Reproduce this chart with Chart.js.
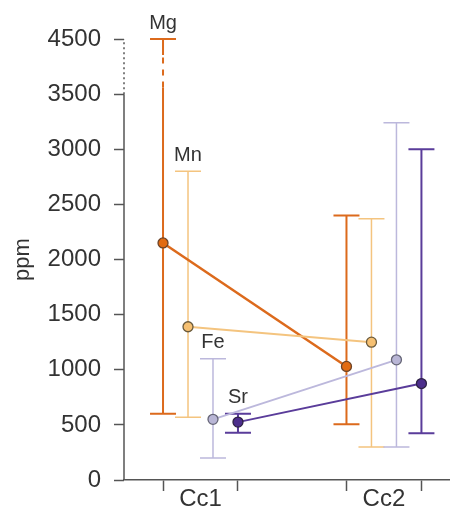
<!DOCTYPE html>
<html>
<head>
<meta charset="utf-8">
<script src="https://cdn.jsdelivr.net/npm/chart.js@4/dist/chart.umd.min.js"></script>
<style>
  html, body { margin: 0; padding: 0; background: #fff; }
  #wrap { width: 450px; height: 510px; }
</style>
</head>
<body>
<div id="wrap"><canvas id="chart" width="450" height="510"></canvas></div>
<script>
// categories and series (ppm)
const categories = ['Cc1', 'Cc2'];
const elements = ['Mg', 'Mn', 'Fe', 'Sr'];
const mgMean = [2150, 1030];
const mgMin = [600, 505];
const mgMax = [4500, 2400];
const mnMean = [1390, 1250];
const mnMin = [570, 300];
const mnMax = [2800, 2370];
const feMean = [550, 1090];
const feMin = [200, 300];
const feMax = [1100, 3240];
const srMean = [525, 875];
const srMin = [428, 425];
const srMax = [600, 3000];
const yTicks = [0, 500, 1000, 1500, 2000, 2500, 3000, 3500, 4500];

// axis break: everything above 3500 is squeezed to half
const BREAK = 3500;
function disp(v) {
    return v <= BREAK ? v : BREAK + (v - BREAK) / 2;
}

const colors = ['#dc6a1c', '#f4c47f', '#bcb8dc', '#5a3c9a'];
const pointFill = ['#e26b12', '#f6c072', '#b9b6d6', '#4c2e8c'];
const pointEdge = ['#6e4428', '#6a5a3c', '#666677', '#2e2244'];
const barWidth = [2, 1.5, 1.5, 2];
const lineWidth = [2.5, 2, 2, 2];

const means = [mgMean, mnMean, feMean, srMean];
const mins = [mgMin, mnMin, feMin, srMin];
const maxs = [mgMax, mnMax, feMax, srMax];

// horizontal spread of the 4 elements inside a group (x units)
const STEP = 0.1362;
const offsets = [-1.5 * STEP, -0.5 * STEP, 0.5 * STEP, 1.5 * STEP];

const datasets = elements.map((el, i) => ({
    label: el,
    data: categories.map((c, k) => ({ x: k + 1 + offsets[i], y: disp(means[i][k]) })),
    showLine: true,
    borderColor: colors[i],
    borderWidth: lineWidth[i],
    pointRadius: 5,
    pointBorderWidth: 1.3,
    pointBackgroundColor: pointFill[i],
    pointBorderColor: pointEdge[i],
    order: 4 - i
}));

const textFont = '"Liberation Sans", Arial, sans-serif';

// error bars, element labels and the broken y axis line
const extras = {
    id: 'extras',
    beforeDatasetsDraw(chart) {
        const ctx = chart.ctx;
        const xs = chart.scales.x, ys = chart.scales.y;
        ctx.save();
        for (let i = 0; i < elements.length; i++) {
            for (let k = 0; k < categories.length; k++) {
                const px = xs.getPixelForValue(k + 1 + offsets[i]);
                const lo = ys.getPixelForValue(disp(mins[i][k]));
                const hi = ys.getPixelForValue(disp(maxs[i][k]));
                ctx.strokeStyle = colors[i];
                ctx.lineWidth = barWidth[i];
                ctx.beginPath();
                if (maxs[i][k] > BREAK) {
                    const br = ys.getPixelForValue(BREAK + 60);
                    ctx.moveTo(px, lo); ctx.lineTo(px, br);
                    ctx.stroke();
                    ctx.setLineDash([6, 6]);
                    ctx.beginPath();
                    ctx.moveTo(px, br); ctx.lineTo(px, hi + 16);
                    ctx.stroke();
                    ctx.setLineDash([]);
                    ctx.beginPath();
                    ctx.moveTo(px, hi + 16); ctx.lineTo(px, hi);
                } else {
                    ctx.moveTo(px, lo); ctx.lineTo(px, hi);
                }
                ctx.moveTo(px - 13, lo); ctx.lineTo(px + 13, lo);
                ctx.moveTo(px - 13, hi); ctx.lineTo(px + 13, hi);
                ctx.stroke();
            }
        }
        // element names above the Cc1 bars
        ctx.fillStyle = '#333';
        ctx.font = '20px ' + textFont;
        ctx.textAlign = 'center';
        ctx.textBaseline = 'middle';
        for (let i = 0; i < elements.length; i++) {
            const px = xs.getPixelForValue(1 + offsets[i]);
            const hi = ys.getPixelForValue(disp(maxs[i][0]));
            ctx.fillText(elements[i], px, hi - 16);
        }
        // y axis line, dotted through the break
        const ax = chart.chartArea.left;
        ctx.strokeStyle = '#555';
        ctx.lineWidth = 1.5;
        ctx.beginPath();
        ctx.moveTo(ax, ys.getPixelForValue(0));
        ctx.lineTo(ax, ys.getPixelForValue(BREAK));
        ctx.stroke();
        ctx.setLineDash([2, 3]);
        ctx.beginPath();
        ctx.moveTo(ax, ys.getPixelForValue(BREAK));
        ctx.lineTo(ax, ys.getPixelForValue(disp(4500)));
        ctx.stroke();
        ctx.restore();
    }
};

new Chart(document.getElementById('chart'), {
    type: 'scatter',
    data: { datasets: datasets },
    options: {
        responsive: false,
        animation: false,
        layout: { autoPadding: false, padding: { top: 39, right: 0, left: 0, bottom: 0 } },
        plugins: { legend: { display: false }, tooltip: { enabled: false } },
        scales: {
            x: {
                type: 'linear',
                min: 0.583,
                max: 2.36,
                afterBuildTicks(scale) {
                    scale.ticks = [];
                    categories.forEach((c, k) => {
                        scale.ticks.push({ value: k + 1 + offsets[0] });
                        scale.ticks.push({ value: k + 1 });
                        scale.ticks.push({ value: k + 1 + offsets[3] });
                    });
                },
                afterFit(scale) {
                    scale.height = 30;
                    scale.paddingLeft = 0;
                    scale.paddingRight = 0;
                },
                grid: {
                    drawOnChartArea: false,
                    tickLength: 11,
                    tickWidth: 1.5,
                    tickColor: (c) => (c.index % 3 === 1 ? 'rgba(0,0,0,0)' : '#555')
                },
                border: { display: true, color: '#555', width: 1.5 },
                ticks: {
                    autoSkip: false,
                    maxRotation: 0,
                    padding: -6,
                    color: '#333',
                    font: { size: 24, family: textFont },
                    callback: (v, i) => (i % 3 === 1 ? categories[Math.floor(i / 3)] : '')
                }
            },
            y: {
                min: 0,
                max: disp(4500),
                afterBuildTicks(scale) {
                    scale.ticks = yTicks.map(v => ({ value: disp(v) }));
                },
                afterFit(scale) { scale.width = 124; },
                grid: {
                    drawOnChartArea: false,
                    tickLength: 10,
                    tickWidth: 1.5,
                    tickColor: '#555'
                },
                border: { display: false },
                title: {
                    display: true,
                    text: 'ppm',
                    color: '#333',
                    padding: { top: 10, bottom: 0 },
                    font: { size: 22, family: textFont }
                },
                ticks: {
                    padding: 13,
                    color: '#333',
                    font: { size: 24, family: textFont },
                    callback: (v, i) => yTicks[i]
                }
            }
        }
    },
    plugins: [extras]
});
</script>
</body>
</html>
